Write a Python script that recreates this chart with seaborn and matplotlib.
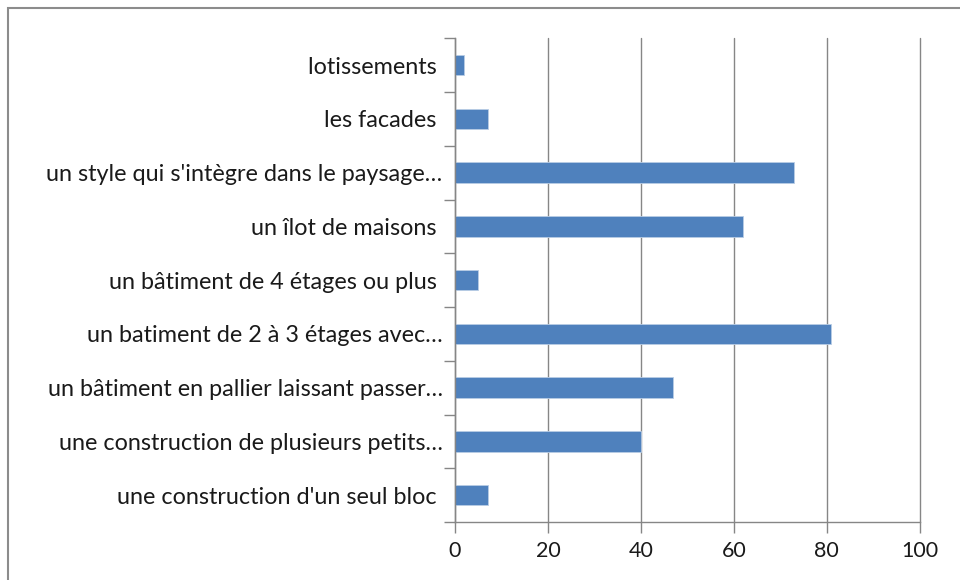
import numpy as np
import pandas as pd
import matplotlib
matplotlib.use("Agg")
import matplotlib.pyplot as plt
import seaborn as sns

# ---------------------------------------------------------------------------
# Data (top to bottom as displayed)
# ---------------------------------------------------------------------------
CATEGORIES = [
    "lotissements ",
    "les facades ",
    "un style qui s'intègre dans le paysage…",
    "un îlot de maisons ",
    "un bâtiment de 4 étages ou plus ",
    "un batiment de 2 à 3 étages avec…",
    "un bâtiment en pallier laissant passer…",
    "une construction de plusieurs petits…",
    "une construction d'un seul bloc ",
]
VALUES = [2, 7, 73, 62, 5, 81, 47, 40, 7]
X_TICKS = [0, 20, 40, 60, 80, 100]

BAR_COLOR  = "#4f81bd"
GRID_COLOR = "#868686"

df = pd.DataFrame({"category": CATEGORIES, "value": VALUES})

sns.set_theme(style="white")
plt.rcParams["font.family"] = ["Lato", "DejaVu Sans"]

fig = plt.figure(figsize=(9.6, 5.8), dpi=100)
ax = fig.add_axes([0.474, 0.100, 0.484, 0.834])

sns.barplot(data=df, x="value", y="category", orient="h", color=BAR_COLOR,
            width=0.38, edgecolor="#b9cde5", linewidth=0.6, saturation=1, ax=ax)

ax.set_xlim(0, 100)
ax.set_xticks(X_TICKS)
ax.set_ylim(len(CATEGORIES) - 0.5, -0.5)
ax.set_xlabel("")
ax.set_ylabel("")
ax.xaxis.grid(True, color=GRID_COLOR, linewidth=1.0)
for gl in ax.get_xgridlines():
    gl.set_clip_on(False)
ax.set_axisbelow(True)

# y ticks between categories, labels at centres
ax.set_yticks(np.arange(len(CATEGORIES)))
ax.set_yticklabels(CATEGORIES)
ax.set_yticks(np.arange(len(CATEGORIES) + 1) - 0.5, minor=True)
ax.tick_params(axis="y", which="major", length=0, pad=9, labelsize=16.8, colors="#1a1a1a")
ax.tick_params(axis="y", which="minor", length=8, width=1, color=GRID_COLOR, left=True)
ax.tick_params(axis="x", length=8, width=1, color=GRID_COLOR, bottom=True,
               labelsize=15.5, colors="#1a1a1a", pad=6)

for side in ["top", "right"]:
    ax.spines[side].set_visible(False)
for side in ["left", "bottom"]:
    ax.spines[side].set_color(GRID_COLOR)
    ax.spines[side].set_linewidth(1.0)

# outer chart frame
frame = plt.Rectangle((8 / 960, -0.05), 1.2, (580 - 8) / 580 + 0.05,
                      transform=fig.transFigure, fill=False,
                      edgecolor="#8c8c8c", linewidth=1.5)
fig.patches.append(frame)

fig.savefig("out.png", dpi=100)
